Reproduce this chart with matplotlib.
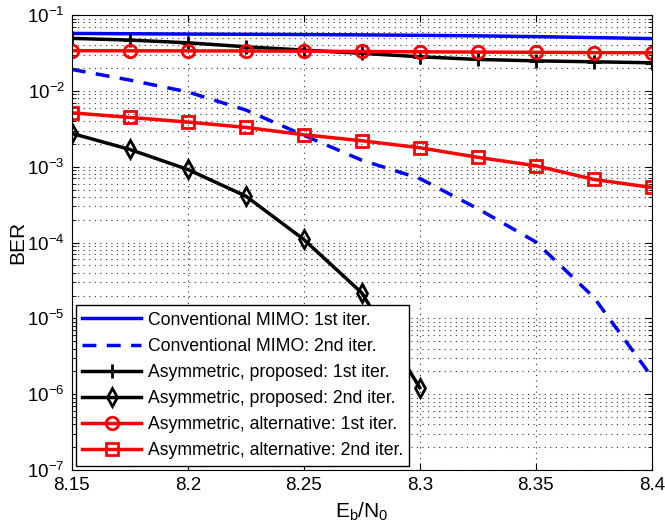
import numpy as np
import matplotlib
matplotlib.use('Agg')
import matplotlib.pyplot as plt
from matplotlib.ticker import LogLocator, NullFormatter

plt.rcParams['font.family'] = ['Liberation Sans', 'DejaVu Sans']
plt.rcParams['mathtext.fontset'] = 'custom'
plt.rcParams['mathtext.rm'] = 'Liberation Sans'
plt.rcParams['mathtext.it'] = 'Liberation Sans'

# Eb/N0 grid
ebn0 = [8.15, 8.175, 8.2, 8.225, 8.25, 8.275, 8.3, 8.325, 8.35, 8.375, 8.4]

# BER curves
conv_1st = [0.0573, 0.0567, 0.0562, 0.0558, 0.0554, 0.0548, 0.0541, 0.0532, 0.0520, 0.0505, 0.0490]
conv_2nd = [0.0192, 0.0139, 0.0097, 0.0056, 0.0026, 0.00122, 0.00070, 0.00028, 0.000102, 1.9e-5, 1.7e-6]
prop_1st = [0.0493, 0.0468, 0.0431, 0.0382, 0.0345, 0.0313, 0.0282, 0.0260, 0.0249, 0.0242, 0.0235]
prop_2nd = [0.00275, 0.00169, 0.00092, 0.00041, 0.00011, 2.17e-5, 1.22e-6]
alt_1st = [0.0339, 0.0338, 0.0337, 0.0336, 0.0334, 0.0331, 0.0328, 0.0325, 0.0323, 0.0320, 0.0318]
alt_2nd = [0.00514, 0.00447, 0.00388, 0.00330, 0.00264, 0.00220, 0.00178, 0.00133, 0.00103, 0.00068, 0.000533]

labels = ['Conventional MIMO: 1st iter.',
          'Conventional MIMO: 2nd iter.',
          'Asymmetric, proposed: 1st iter.',
          'Asymmetric, proposed: 2nd iter.',
          'Asymmetric, alternative: 1st iter.',
          'Asymmetric, alternative: 2nd iter.']

fig = plt.figure(figsize=(6.65, 5.29), dpi=100)
ax = fig.add_axes([0.108, 0.1115, 0.872, 0.86])

lw = 2.5
ax.semilogy(ebn0, conv_1st, '-', color='#0000ff', lw=lw, label=labels[0])
ax.semilogy(ebn0, conv_2nd, '--', color='#0000ff', lw=lw, dashes=(4, 3), label=labels[1])
ax.semilogy(ebn0, prop_1st, '-', color='k', lw=lw, marker='+', ms=10, mew=2, label=labels[2])
ax.semilogy(ebn0[:len(prop_2nd)], prop_2nd, '-', color='k', lw=lw, marker='d', ms=9,
            mew=2, mfc='none', label=labels[3])
ax.semilogy(ebn0, alt_1st, '-', color='#ff0000', lw=lw, marker='o', ms=9, mew=2,
            mfc='none', label=labels[4])
ax.semilogy(ebn0, alt_2nd, '-', color='#ff0000', lw=lw, marker='s', ms=9, mew=2,
            mfc='none', label=labels[5])

ax.set_xlim(8.15, 8.4)
ax.set_ylim(1e-7, 1e-1)
ax.set_xticks([8.15, 8.2, 8.25, 8.3, 8.35, 8.4])
ax.set_xticklabels(['8.15', '8.2', '8.25', '8.3', '8.35', '8.4'])
ax.yaxis.set_major_locator(LogLocator(base=10, numticks=10))
ax.yaxis.set_minor_locator(LogLocator(base=10, subs=np.arange(2, 10), numticks=10))
ax.yaxis.set_minor_formatter(NullFormatter())

grid_kw = dict(ls=(0, (1, 4)), color='#333333', lw=0.8)
ax.grid(True, which='major', axis='both', **grid_kw)
ax.grid(True, which='minor', axis='y', **grid_kw)
ax.tick_params(which='both', direction='in', top=True, right=True, labelsize=13.5)
ax.tick_params(which='major', length=5, pad=5)
ax.tick_params(which='minor', length=3)

ax.set_xlabel(r'E$_\mathrm{b}$/N$_\mathrm{0}$', fontsize=15, labelpad=5)
ax.set_ylabel('BER', fontsize=15, labelpad=0)

leg = ax.legend(loc='lower left', fontsize=12.7, handlelength=3.3, fancybox=False,
                edgecolor='k', framealpha=1, borderaxespad=0.25, labelspacing=0.52,
                borderpad=0.35, handletextpad=0.4)
leg.get_frame().set_linewidth(1.0)

fig.savefig('out.png', dpi=100)
